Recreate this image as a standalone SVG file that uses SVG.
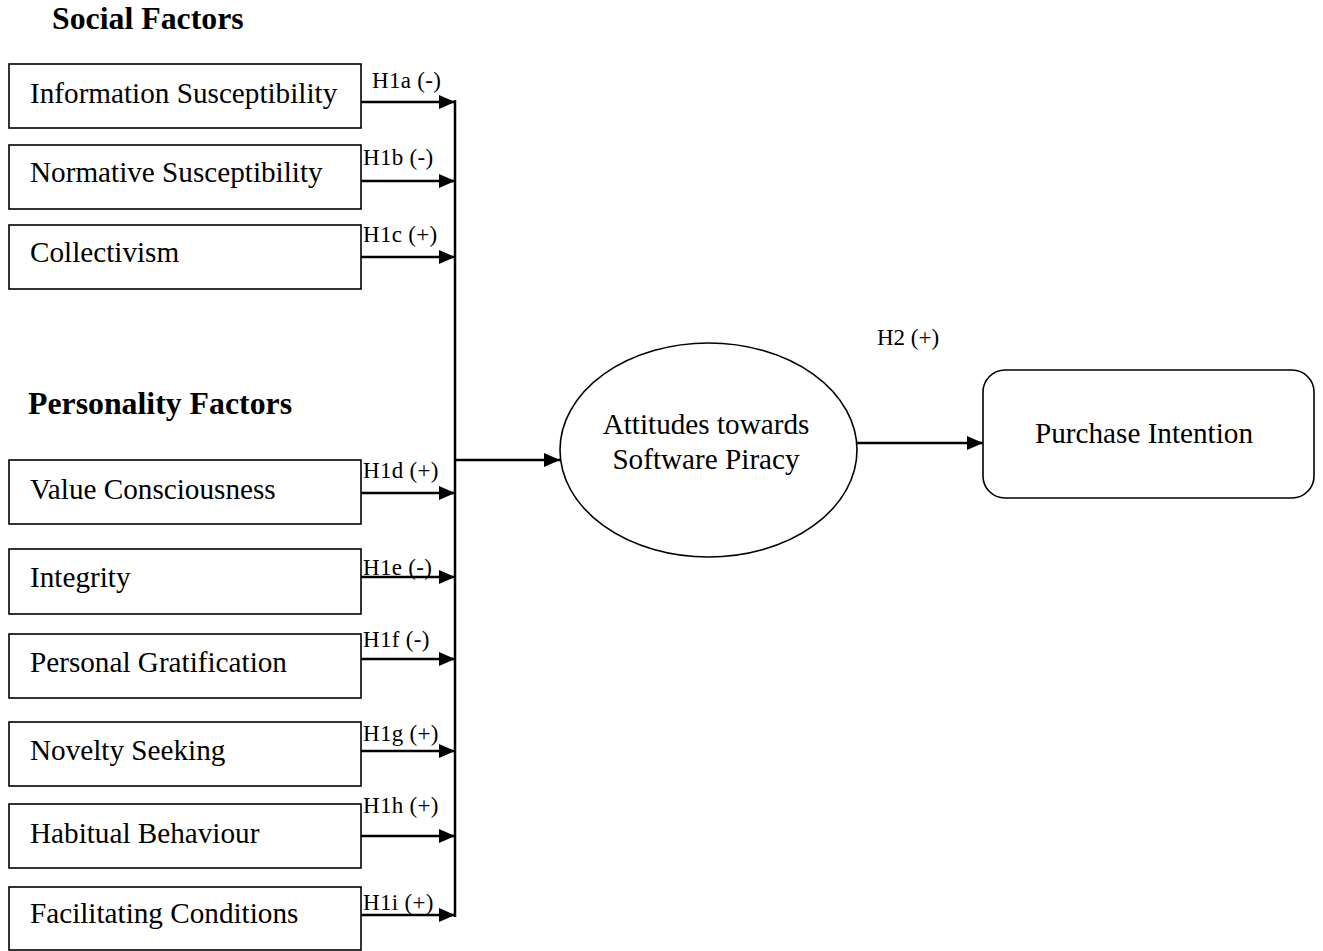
<svg xmlns="http://www.w3.org/2000/svg" width="1323" height="951" viewBox="0 0 1323 951">
<style>
.box{fill:#fff;stroke:#000;stroke-width:1.6}
.lbl{font-family:"Liberation Serif","Times New Roman",serif;font-size:29.2px;fill:#000}
.hyp{font-family:"Liberation Serif","Times New Roman",serif;font-size:23px;fill:#000;letter-spacing:0.3px}
.head{font-family:"Liberation Serif","Times New Roman",serif;font-size:31.8px;font-weight:bold;fill:#000}
.con{stroke:#000;stroke-width:2.5;fill:none}
</style>
<defs>
<marker id="ah" markerUnits="userSpaceOnUse" markerWidth="16" markerHeight="14" refX="16" refY="7" orient="auto">
<path d="M0,0 L16,7 L0,14 Z" fill="#000"/>
</marker>
</defs>
<rect width="1323" height="951" fill="#fff"/>
<text class="head" x="52" y="29">Social Factors</text>
<text class="head" x="28" y="414">Personality Factors</text>

<g id="n-info"><rect class="box" x="9" y="64" width="352" height="64"/><text class="lbl" x="30" y="103">Information Susceptibility</text></g>
<g id="n-norm"><rect class="box" x="9" y="145" width="352" height="64"/><text class="lbl" x="30" y="182">Normative Susceptibility</text></g>
<g id="n-coll"><rect class="box" x="9" y="225" width="352" height="64"/><text class="lbl" x="30" y="262">Collectivism</text></g>
<g id="n-value"><rect class="box" x="9" y="460" width="352" height="64"/><text class="lbl" x="30" y="499">Value Consciousness</text></g>
<g id="n-integ"><rect class="box" x="9" y="549" width="352" height="65"/><text class="lbl" x="30" y="587">Integrity</text></g>
<g id="n-grat"><rect class="box" x="9" y="634" width="352" height="64"/><text class="lbl" x="30" y="672">Personal Gratification</text></g>
<g id="n-nov"><rect class="box" x="9" y="722" width="352" height="64"/><text class="lbl" x="30" y="760">Novelty Seeking</text></g>
<g id="n-hab"><rect class="box" x="9" y="804" width="352" height="64"/><text class="lbl" x="30" y="843">Habitual Behaviour</text></g>
<g id="n-fac"><rect class="box" x="9" y="887" width="352" height="63"/><text class="lbl" x="30" y="923">Facilitating Conditions</text></g>

<g id="n-att"><ellipse class="box" cx="708.5" cy="450" rx="148.5" ry="107"/><text class="lbl" x="706" y="434" text-anchor="middle">Attitudes towards</text><text class="lbl" x="706" y="469" text-anchor="middle">Software Piracy</text></g>
<g id="n-pi"><rect class="box" x="983" y="370" width="331" height="128" rx="22"/><text class="lbl" x="1144" y="443" text-anchor="middle">Purchase Intention</text></g>

<g id="connectors">
<line class="con" x1="455" y1="100" x2="455" y2="917"/>
<line class="con" x1="361" y1="102" x2="455" y2="102" marker-end="url(#ah)"/>
<line class="con" x1="361" y1="181" x2="455" y2="181" marker-end="url(#ah)"/>
<line class="con" x1="361" y1="257" x2="455" y2="257" marker-end="url(#ah)"/>
<line class="con" x1="361" y1="493" x2="455" y2="493" marker-end="url(#ah)"/>
<line class="con" x1="361" y1="577" x2="455" y2="577" marker-end="url(#ah)"/>
<line class="con" x1="361" y1="659" x2="455" y2="659" marker-end="url(#ah)"/>
<line class="con" x1="361" y1="751" x2="455" y2="751" marker-end="url(#ah)"/>
<line class="con" x1="361" y1="836" x2="455" y2="836" marker-end="url(#ah)"/>
<line class="con" x1="361" y1="915" x2="455" y2="915" marker-end="url(#ah)"/>
<line class="con" x1="455" y1="460" x2="560" y2="460" marker-end="url(#ah)"/>
<line class="con" x1="857" y1="443" x2="983" y2="443" marker-end="url(#ah)"/>
<text class="hyp" x="372" y="88">H1a (-)</text>
<text class="hyp" x="363" y="165">H1b (-)</text>
<text class="hyp" x="363" y="242">H1c (+)</text>
<text class="hyp" x="363" y="478">H1d (+)</text>
<text class="hyp" x="363" y="575">H1e (-)</text>
<text class="hyp" x="363" y="647">H1f (-)</text>
<text class="hyp" x="363" y="741">H1g (+)</text>
<text class="hyp" x="363" y="813">H1h (+)</text>
<text class="hyp" x="363" y="910">H1i (+)</text>
<text class="hyp" x="877" y="345" style="letter-spacing:0">H2 (+)</text>
</g>
</svg>
